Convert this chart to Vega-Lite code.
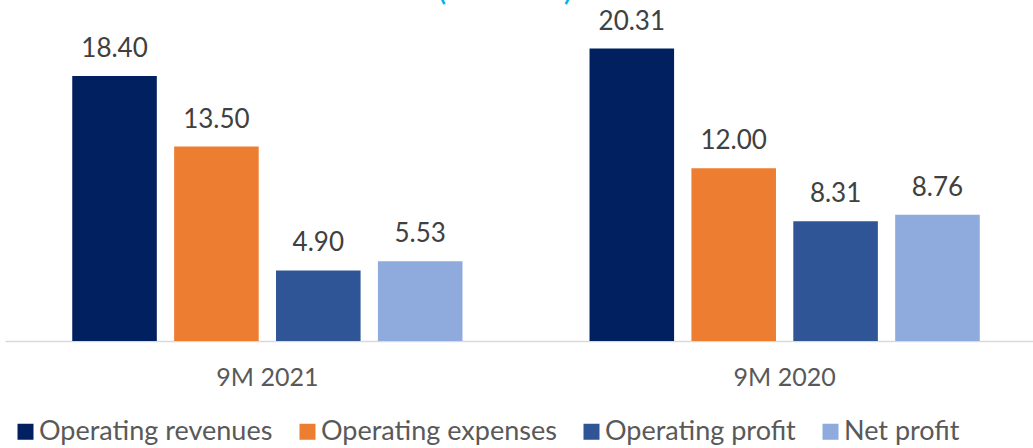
{
  "$schema": "https://vega.github.io/schema/vega-lite/v6.json",
  "autosize": "none",
  "width": 1042,
  "height": 341,
  "padding": {"left": 5, "top": 0, "right": 0, "bottom": 107},
  "background": "white",
  "title": {"text": "(VND bn)", "color": "#00B0F0", "fontSize": 33, "font": "Lato", "fontWeight": "normal", "anchor": "middle", "baseline": "alphabetic", "offset": 0, "dx": -21, "dy": 33},
  "data": {"values": [
    {"period": "9M 2021", "series": "Operating revenues", "value": 18.40},
    {"period": "9M 2021", "series": "Operating expenses", "value": 13.50},
    {"period": "9M 2021", "series": "Operating profit", "value": 4.90},
    {"period": "9M 2021", "series": "Net profit", "value": 5.53},
    {"period": "9M 2020", "series": "Operating revenues", "value": 20.31},
    {"period": "9M 2020", "series": "Operating expenses", "value": 12.00},
    {"period": "9M 2020", "series": "Operating profit", "value": 8.31},
    {"period": "9M 2020", "series": "Net profit", "value": 8.76}
  ]},
  "encoding": {
    "x": {"field": "period", "type": "nominal", "sort": ["9M 2021", "9M 2020"],
      "scale": {"paddingInner": 0.2456, "paddingOuter": 0.13},
      "axis": {"title": null, "labelAngle": 0, "ticks": false, "domainColor": "#D9D9D9", "domainWidth": 1.5, "labelFont": "Lato", "labelFontSize": 25, "labelColor": "#595959", "labelPadding": 24, "labelBaseline": "top"}},
    "xOffset": {"field": "series", "type": "nominal", "sort": ["Operating revenues", "Operating expenses", "Operating profit", "Net profit"], "scale": {"paddingInner": 0.17, "paddingOuter": 0}},
    "y": {"field": "value", "type": "quantitative", "scale": {"domain": [0, 23.68], "nice": false}, "axis": null}
  },
  "layer": [
    {"mark": {"type": "bar"},
     "encoding": {"color": {"field": "series", "type": "nominal",
        "sort": ["Operating revenues", "Operating expenses", "Operating profit", "Net profit"],
        "scale": {"domain": ["Operating revenues", "Operating expenses", "Operating profit", "Net profit"], "range": ["#002060", "#ED7D31", "#2F5597", "#8FAADC"]},
        "legend": {"title": null, "orient": "none", "legendX": 7, "legendY": 418, "direction": "horizontal", "symbolType": "square", "symbolSize": 256, "symbolStrokeWidth": 0, "labelFont": "Lato", "labelFontSize": 27, "labelColor": "#595959", "labelLimit": 500, "columnPadding": 21, "labelOffset": 0, "symbolOffset": 0}}}},
    {"mark": {"type": "text", "font": "Lato", "fontSize": 26, "color": "#404040", "baseline": "alphabetic", "dy": -19},
     "encoding": {"text": {"field": "value", "type": "quantitative", "format": ".2f"}}}
  ],
  "config": {"view": {"stroke": null}}
}
